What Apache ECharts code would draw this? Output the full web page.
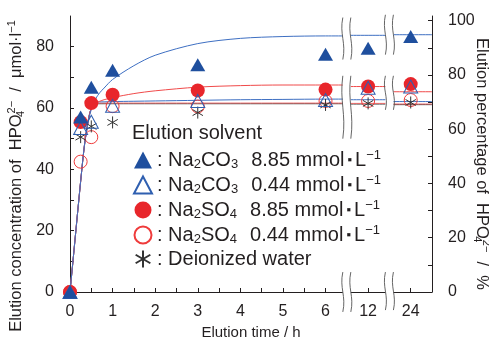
<!DOCTYPE html>
<html><head><meta charset="utf-8">
<script src="https://cdn.jsdelivr.net/npm/echarts@6/dist/echarts.min.js"></script>
<style>html,body{margin:0;padding:0;background:#fff}#c{width:489px;height:338px}</style>
</head><body><div id="c"></div>
<script>
// ---- measured data (elution time in h, concentration in µmol/L) ----
const times      = [0, 0.25, 0.5, 1, 3, 6, 12, 24];
const na2co3High = [0, 57.1, 66.8, 72.3, 74.1, 77.5, 79.5, 83.3];
const na2co3Low  = [0, 53.5, 55.5, 60.7, 62.3, 62.6, 66.6, 67.0];
const na2so4High = [0, 55.4, 61.6, 64.3, 65.7, 66.0, 67.0, 67.8];
const na2so4Low  = [0, 42.5, 50.5, 60.6, 60.5, 62.3, 62.3, 62.6];
const water      = [0, 50.5, 54.0, 55.3, 58.5, 61.0, 61.5, 61.8];

// ---- fitted curves ----
const fitTimes    = [0,0.1,0.2,0.3,0.35,0.4,0.45,0.5,0.55,0.6,0.7,0.8,1,1.5,2,3,4,5,6,6.5];
const fitCo3High  = [0,14.5,29,43,49,53.5,57,59.5,61.5,63,65,66.5,69.3,73.8,77.2,81,82.7,83.3,83.5,83.5];
const fitSo4High  = [0,14.5,29,43,49,53.5,57.5,59.8,60.9,61.5,62.2,62.7,63.4,64.7,65.6,66.8,67.3,67.5,67.5,67.5];
const fitCo3Low   = [0,14.5,29,43,49,53.5,57.5,60,61.4,61.8,62,62,62.1,62.2,62.3,62.5,62.7,62.8,62.9,62.9];
const fitSo4Low   = [0,14.5,29,43,49,53.5,57.5,60,61.1,61.4,61.6,61.6,61.6,61.6,61.6,61.6,61.6,61.6,61.6,61.6];
const fitWater    = [0,14.5,29,43,49,53.5,57.5,60,61,61.3,61.4,61.4,61.4,61.4,61.4,61.4,61.4,61.4,61.4,61.4];
// fitted levels drawn in the 12 h and 24 h panels
const lateCo3High = [83.7, 83.9];
const lateSo4High = [67.0, 65.3];
const lateCo3Low  = [62.7, 62.1];
const lateSo4Low  = [61.5, 61.3];
const lateWater   = [61.3, 61.1];

// ---- axes ----
const xTickLabels = ['0','1','2','3','4','5','6','12','24'];
const xMinorTicks = [0,0.5,1,1.5,2,2.5,3,3.5,4,4.5,5,5.5,6,7,8];
const yLeftLabels = [0,20,40,60,80];
const yLeftTicks  = [0,10,20,30,40,50,60,70,80];
const yRightLabels = [0,20,40,60,80,100];
const yRightTicks  = [0,10,20,30,40,50,60,70,80,90,100];
const breakAt = [6.5, 7.5];
const breakSpans = [
  [[89.5,75.8],[70.5,50],[6.5,-6.5]],
  [[90.4,77.4],[70.5,59.4],[6.5,-5.9]]
];

const F = '"Liberation Sans", Arial, Helvetica, sans-serif';
const C = '#231f20';
const BLUE = '#1f4f9e', RED = '#e8262b';

// broken time axis: 12 h and 24 h are drawn in their own panels
const pos = t => t <= 6 ? t : (t === 12 ? 7 : 8);
const pts = vals => times.map((t, i) => [pos(t), vals[i]]);
const curve = (vals, late) => fitTimes.map((t, i) => [t, vals[i]])
  .concat([['-','-'], [6.5, late[0]], [7.5, late[0]], ['-','-'], [7.5, late[1]], [8.5, late[1]]]);

const rich = {
  t: {fontSize: 20, fontFamily: F, color: C, lineHeight: 22},
  s: {fontSize: 13, fontFamily: F, color: C, lineHeight: 12, verticalAlign: 'bottom'},
  p: {fontSize: 13, fontFamily: F, color: C, lineHeight: 12, verticalAlign: 'top'},
  d: {fontSize: 13, fontFamily: F, color: C, lineHeight: 22, padding: [0, 3, 0, 3]},
  g: {fontSize: 20, width: 13}
};
const conc = c => '{t|' + c + ' mmol}{d|▪}{t|L}{p|−1}';
const legendText = {
  'Na2CO3 8.85': '{t|: Na}{s|2}{t|CO}{s|3}{g| }' + conc('8.85'),
  'Na2CO3 0.44': '{t|: Na}{s|2}{t|CO}{s|3}{g| }' + conc('0.44'),
  'Na2SO4 8.85': '{t|: Na}{s|2}{t|SO}{s|4}{g| }' + conc('8.85'),
  'Na2SO4 0.44': '{t|: Na}{s|2}{t|SO}{s|4}{g| }' + conc('0.44'),
  'water': '{t|: Deionized water}'
};
const star = 'path://M0,-10L0,10M-8.66,-5L8.66,5M-8.66,5L8.66,-5';

const lineSeries = (vals, late, color, z) => ({
  type: 'line', data: curve(vals, late), showSymbol: false, symbol: 'none',
  smooth: 0.3, connectNulls: false, z: z, silent: true,
  lineStyle: {color: color, width: 1}
});

const breakData = [];
breakAt.forEach((p, i) => breakSpans[i].forEach(s => breakData.push([p, s[0], s[1]])));

const titleRich = {
  a: {fontSize: 16.5, fontFamily: F, fill: C, lineHeight: 20},
  s: {fontSize: 11, fontFamily: F, fill: C, lineHeight: 10, verticalAlign: 'bottom', width: 1},
  p: {fontSize: 11, fontFamily: F, fill: C, lineHeight: 10, verticalAlign: 'top'}
};

const chart = echarts.init(document.getElementById('c'), null, {renderer: 'canvas'});
chart.setOption({
  animation: false,
  backgroundColor: '#fff',
  textStyle: {fontFamily: F, color: C},
  grid: {left: 70, right: 57, top: 16, bottom: 46, containLabel: false, outerBoundsMode: 'none'},
  title: {text: 'Elution solvent', left: 127, top: 118,
    textStyle: {fontSize: 20, fontWeight: 'normal', fontFamily: F, color: C}},
  legend: {
    orient: 'vertical', left: 128, top: 144, itemWidth: 18, itemHeight: 17, itemGap: 3,
    data: ['Na2CO3 8.85','Na2CO3 0.44','Na2SO4 8.85','Na2SO4 0.44','water'],
    formatter: n => legendText[n],
    textStyle: {rich: rich, fontFamily: F, fontSize: 20, color: C},
    selectedMode: false
  },
  graphic: [
    {type: 'text', x: 16, y: 176, rotation: Math.PI / 2,
      style: {text: '{a|Elution concentration of  HPO}{s|4}{p|2−}{a|  /  μmol·l}{p|−1}', align: 'center', verticalAlign: 'middle',
        rich: titleRich}},
    {type: 'text', x: 482, y: 164, rotation: -Math.PI / 2,
      style: {text: '{a|Elution percentage of  HPO}{s|4}{p|2−}{a|  /  %}', align: 'center', verticalAlign: 'middle',
        rich: titleRich}}
  ],
  xAxis: {
    type: 'value', min: 0, max: 8.5,
    name: 'Elution time / h', nameLocation: 'middle', nameGap: 26,
    nameTextStyle: {fontSize: 15, fontFamily: F, color: C},
    axisLine: {onZero: false, lineStyle: {color: C, width: 1}},
    axisTick: {inside: true, length: 4, customValues: xMinorTicks, lineStyle: {color: C}},
    axisLabel: {customValues: xTickLabels.map((_, i) => i), formatter: v => xTickLabels[Math.round(v)],
      fontSize: 16, fontFamily: F, color: C, margin: 12},
    splitLine: {show: false}
  },
  yAxis: [{
    type: 'value', min: 0, max: 90, position: 'left',
    axisLine: {show: true, onZero: false, lineStyle: {color: C, width: 1}},
    axisTick: {show: true, inside: true, length: 4, customValues: yLeftTicks, lineStyle: {color: C}},
    axisLabel: {customValues: yLeftLabels, fontSize: 16, fontFamily: F, color: C, margin: 16},
    splitLine: {show: false}
  }, {
    type: 'value', min: 0, max: 101.7, position: 'right',
    axisLine: {show: true, onZero: false, lineStyle: {color: C, width: 1}},
    axisTick: {show: true, inside: true, length: 4, customValues: yRightTicks, lineStyle: {color: C}},
    axisLabel: {customValues: yRightLabels, fontSize: 16, fontFamily: F, color: C, margin: 16},
    splitLine: {show: false}
  }],
  series: [
    lineSeries(fitWater, lateWater, '#333333', 2),
    lineSeries(fitSo4Low, lateSo4Low, '#f06a6a', 2),
    lineSeries(fitCo3Low, lateCo3Low, '#3e6fc2', 2),
    lineSeries(fitSo4High, lateSo4High, '#f04a4a', 2),
    lineSeries(fitCo3High, lateCo3High, '#3e6fc2', 2),
    {type: 'custom', silent: true, z: 6, clip: false, data: breakData,
      renderItem: (params, api) => {
        const p = api.value(0);
        const a = api.coord([p, api.value(1)]), b = api.coord([p, api.value(2)]);
        const cx = a[0], y1 = a[1], y2 = b[1], h = y2 - y1, d = 4, w = 3.5;
        const wave = ox => ({type: 'bezierCurve',
          shape: {x1: cx + ox, y1: y1, x2: cx + ox, y2: y2, cpx1: cx + ox - w, cpy1: y1 + h * 0.4, cpx2: cx + ox + w, cpy2: y1 + h * 0.6},
          style: {stroke: '#555', fill: 'none', lineWidth: 0.9}});
        return {type: 'group', children: [
          {type: 'rect', shape: {x: cx - d, y: y1, width: 2 * d, height: h}, style: {fill: '#fff'}},
          wave(-d), wave(d)]};
      }},
    {name: 'Na2SO4 0.44', type: 'scatter', data: pts(na2so4Low), symbol: 'circle', symbolSize: 13, z: 7,
      itemStyle: {color: 'rgba(255,255,255,0)', borderColor: '#ef3b3b', borderWidth: 1, opacity: 1}},
    {name: 'water', type: 'scatter', data: pts(water), symbol: star, symbolSize: 12, symbolKeepAspect: true, z: 7,
      itemStyle: {color: 'rgba(0,0,0,0)', borderColor: '#333', borderWidth: 1, opacity: 1}},
    {name: 'Na2SO4 8.85', type: 'scatter', data: pts(na2so4High), symbol: 'circle', symbolSize: 14, z: 8,
      itemStyle: {color: RED, opacity: 1}},
    {name: 'Na2CO3 0.44', type: 'scatter', data: pts(na2co3Low), symbol: 'triangle', symbolSize: [14, 13], z: 9,
      itemStyle: {color: 'rgba(255,255,255,0)', borderColor: '#2f5fb0', borderWidth: 1, opacity: 1}},
    {name: 'Na2CO3 8.85', type: 'scatter', data: pts(na2co3High), symbol: 'triangle', symbolSize: [15, 13], z: 10,
      itemStyle: {color: BLUE, opacity: 1}}
  ]
});
</script></body></html>
